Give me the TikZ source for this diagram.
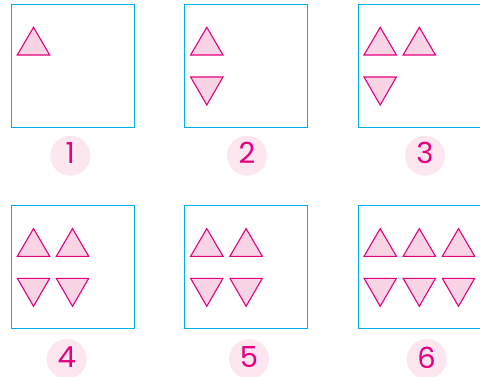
\documentclass[tikz,border=0pt]{standalone}
\usepackage{fontspec}
\setmainfont{Poppins}
\definecolor{boxblue}{RGB}{0,174,239}
\definecolor{tripink}{RGB}{228,0,127}
\definecolor{trifill}{RGB}{249,212,228}
\definecolor{circfill}{RGB}{252,230,240}
\tikzset{
  frame/.style={draw=boxblue, line width=1.9pt},
  tri/.style={draw=tripink, fill=trifill, line width=1.1pt, line join=miter},
  numcirc/.style={fill=circfill},
  numtext/.style={inner sep=0pt, text=tripink, font=\fontsize{29}{29}\selectfont},
  pics/uptri/.style={code={\draw[tri] (-16.2,0) -- (16.2,0) -- (0,-27.7) -- cycle;}},
  pics/dntri/.style={code={\draw[tri] (-16.2,0) -- (16.2,0) -- (0,28) -- cycle;}}
}
\begin{document}
\begin{tikzpicture}[x=1pt,y=-1pt]
\clip (0,0) rectangle (480,376);
% boxes
\draw[frame] (11.5,4.5) rectangle ++(123,123);
\draw[frame] (184.5,4.5) rectangle ++(123,123);
\draw[frame] (358.5,4.5) rectangle ++(123,123);
\draw[frame] (11.5,205.5) rectangle ++(123,123);
\draw[frame] (184.5,205.5) rectangle ++(123,123);
\draw[frame] (358.5,205.5) rectangle ++(123,123);
% box 1
\pic at (33.5,55) {uptri};
% box 2
\pic at (206.8,55) {uptri};
\pic at (206.8,77) {dntri};
% box 3
\pic at (380.2,55) {uptri};
\pic at (419.3,55) {uptri};
\pic at (380.2,77) {dntri};
% box 4
\pic at (33.5,256.3) {uptri};
\pic at (72.5,256.3) {uptri};
\pic at (33.5,278.3) {dntri};
\pic at (72.5,278.3) {dntri};
% box 5
\pic at (206.8,256.3) {uptri};
\pic at (246.1,256.3) {uptri};
\pic at (206.8,278.3) {dntri};
\pic at (246.1,278.3) {dntri};
% box 6
\pic at (380.2,256.3) {uptri};
\pic at (419.3,256.3) {uptri};
\pic at (458.5,256.3) {uptri};
\pic at (380.2,278.3) {dntri};
\pic at (419.3,278.3) {dntri};
\pic at (458.5,278.3) {dntri};
% number circles
\fill[numcirc] (70.3,155.7) circle (20);
\fill[numcirc] (247,155.7) circle (20);
\fill[numcirc] (425,155.7) circle (20);
\fill[numcirc] (66.7,359) circle (20);
\fill[numcirc] (249,359) circle (20);
\fill[numcirc] (426.7,359) circle (20);
\node[numtext] (n1) at (70.3,153.3) {1};
\node[numtext] (n2) at (247,153.3) {2};
\node[numtext] (n3) at (425,153.3) {3};
\node[numtext] (n4) at (66.7,357.5) {4};
\node[numtext] (n5) at (249,357.5) {5};
\node[numtext] (n6) at (426.7,357.5) {6};
\end{tikzpicture}
\end{document}
